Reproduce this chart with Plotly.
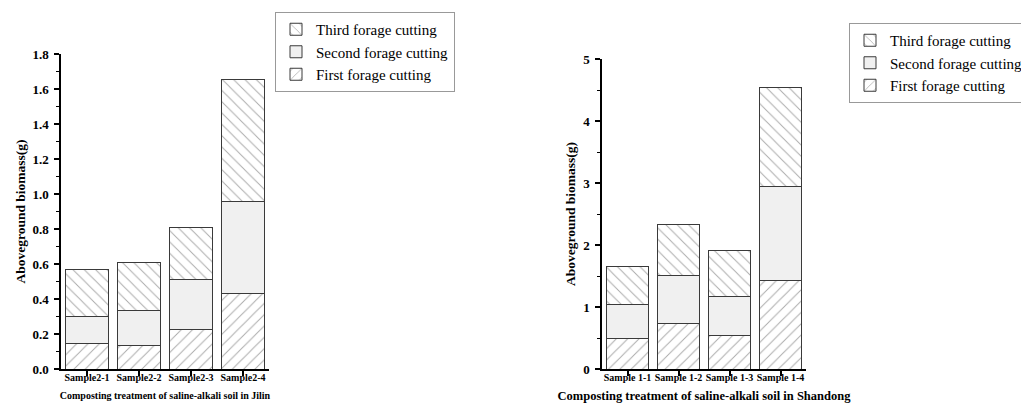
import plotly.graph_objects as go

# ---- data ----
jilin_samples = ["Sample2-1", "Sample2-2", "Sample2-3", "Sample2-4"]
jilin_first = [0.143, 0.135, 0.223, 0.432]
jilin_second = [0.158, 0.198, 0.289, 0.524]
jilin_third = [0.265, 0.275, 0.298, 0.699]

shandong_samples = ["Sample 1-1", "Sample 1-2", "Sample 1-3", "Sample 1-4"]
shandong_first = [0.484, 0.742, 0.548, 1.430]
shandong_second = [0.564, 0.769, 0.624, 1.516]
shandong_third = [0.602, 0.817, 0.742, 1.592]

series_names = ["First forage cutting", "Second forage cutting", "Third forage cutting"]

FONT = "Liberation Serif"
EDGE = "#3a3a3a"


def style(i):
    if i == 0:
        return dict(color="white", line=dict(color=EDGE, width=1),
                    pattern=dict(shape="/", fgcolor="#555", bgcolor="white", size=8, solidity=0.12))
    if i == 1:
        return dict(color="#f0f0f0", line=dict(color=EDGE, width=1))
    return dict(color="white", line=dict(color=EDGE, width=1),
                pattern=dict(shape="\\", fgcolor="#555", bgcolor="white", size=8, solidity=0.12))


fig = go.Figure()

for i, vals in enumerate([jilin_first, jilin_second, jilin_third]):
    fig.add_trace(go.Bar(x=jilin_samples, y=vals, name=series_names[i], marker=style(i),
                         xaxis="x", yaxis="y", legend="legend"))
for i, vals in enumerate([shandong_first, shandong_second, shandong_third]):
    fig.add_trace(go.Bar(x=shandong_samples, y=vals, name=series_names[i], marker=style(i),
                         xaxis="x2", yaxis="y2", legend="legend2"))

W, H = 1029, 403

common_x = dict(showline=True, linecolor="black", linewidth=1.5, ticks="outside",
                ticklen=5, tickwidth=1.5, tickcolor="black", showgrid=False,
                range=[-0.5, 3.5], automargin=False, ticklabelstandoff=-7,
                tickfont=dict(family=FONT, size=10, color="black", weight="bold"))
common_y = dict(showline=True, linecolor="black", linewidth=1.5, ticks="outside",
                ticklen=5, tickwidth=1.5, tickcolor="black", showgrid=False, zeroline=False,
                automargin=False, ticklabelstandoff=3,
                tickfont=dict(family=FONT, size=13, color="black", weight="bold"),
                title=dict(text="Aboveground biomass(g)",
                           font=dict(family=FONT, size=13.5, color="black", weight="bold"),
                           standoff=4))

fig.update_layout(
    width=W, height=H,
    margin=dict(l=0, r=0, t=0, b=0),
    paper_bgcolor="white", plot_bgcolor="white",
    barmode="stack", bargap=0.19,
    xaxis=dict(common_x, domain=[53 / W, 261 / W], anchor="y",
               title=dict(text="Composting treatment of saline-alkali soil in Jilin",
                          font=dict(family=FONT, size=10, color="black", weight="bold"),
                          standoff=10)),
    yaxis=dict(common_y, domain=[1 - 361 / H, 1 - 46 / H], anchor="x",
               range=[0, 1.8], dtick=0.2, tickformat=".1f",
               minor=dict(dtick=0.1, ticks="outside", ticklen=3, tickwidth=1, tickcolor="black")),
    xaxis2=dict(common_x, domain=[594 / W, 798 / W], anchor="y2",
                title=dict(text="Composting treatment of saline-alkali soil in Shandong",
                           font=dict(family=FONT, size=12.5, color="black", weight="bold"),
                           standoff=9)),
    yaxis2=dict(common_y, domain=[1 - 361 / H, 1 - 51 / H], anchor="x2",
                range=[0, 5], dtick=1,
                minor=dict(dtick=0.5, ticks="outside", ticklen=3, tickwidth=1, tickcolor="black")),
    legend=dict(x=267 / W, y=1 - 4 / H, xanchor="left", yanchor="top",
                traceorder="reversed", bgcolor="white", bordercolor="#999", borderwidth=1,
                font=dict(family=FONT, size=15, color="black"), tracegroupgap=0),
    legend2=dict(x=841 / W, y=1 - 15 / H, xanchor="left", yanchor="top",
                 traceorder="reversed", bgcolor="white", bordercolor="#999", borderwidth=1,
                 font=dict(family=FONT, size=15, color="black"), tracegroupgap=0),
)

fig.write_html("out.html")
